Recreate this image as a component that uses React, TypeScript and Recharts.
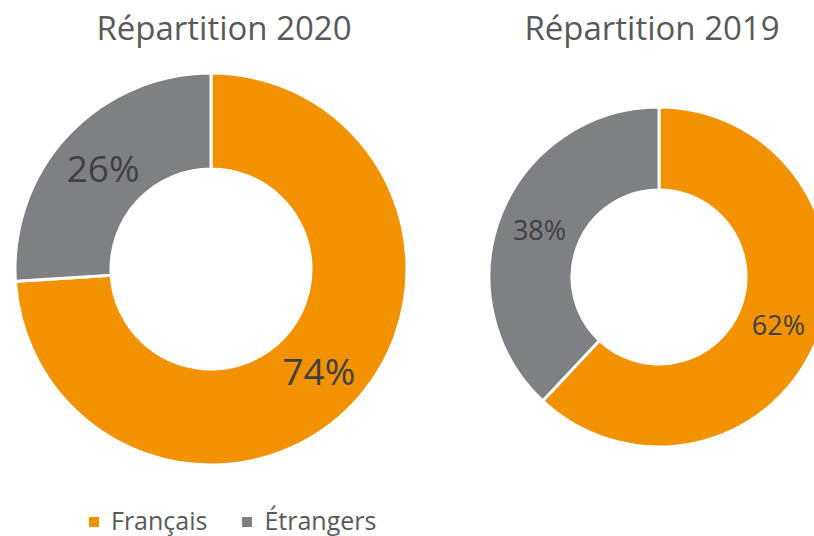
import { PieChart, Pie, Cell } from "recharts";

const categories = ["Français", "Étrangers"];
const values2020 = [74, 26];
const values2019 = [62, 38];
const titles = ["Répartition 2020", "Répartition 2019"];

const COLORS = ["#F39200", "#7F8083"];
const FONT = "'Open Sans', 'Noto Sans', sans-serif";
const RAD = Math.PI / 180;

const data2020 = categories.map((name, i) => ({ name, value: values2020[i] }));
const data2019 = categories.map((name, i) => ({ name, value: values2019[i] }));

function makeLabel(fontSize: number) {
  return (props: any) => {
    const { cx, cy, midAngle, innerRadius, outerRadius, value } = props;
    const r = (innerRadius + outerRadius) / 2;
    const x = cx + r * Math.cos(-midAngle * RAD);
    const y = cy + r * Math.sin(-midAngle * RAD);
    return (
      <text
        x={x}
        y={y}
        fill="#404040"
        fontSize={fontSize}
        fontFamily={FONT}
        textAnchor="middle"
        dominantBaseline="central"
      >
        {`${value}%`}
      </text>
    );
  };
}

const titleStyle: React.CSSProperties = {
  position: "absolute",
  width: 400,
  top: 6,
  textAlign: "center",
  fontFamily: FONT,
  fontSize: 33,
  color: "#595959",
  lineHeight: "44px",
  whiteSpace: "nowrap",
};

export default function App() {
  return (
    <div style={{ position: "absolute", left: 0, top: 0, width: 814, height: 536, background: "#fff", overflow: "hidden" }}>
      <div style={{ ...titleStyle, left: 24 }}>{titles[0]}</div>
      <div style={{ ...titleStyle, left: 452 }}>{titles[1]}</div>
      <div style={{ position: "absolute", left: 0, top: 0 }}>
        <PieChart width={814} height={536} margin={{ top: 0, right: 0, bottom: 0, left: 0 }}>
          <Pie
            data={data2020}
            dataKey="value"
            nameKey="name"
            cx={211}
            cy={269}
            innerRadius={100}
            outerRadius={196}
            startAngle={90}
            endAngle={-270}
            stroke="#fff"
            strokeWidth={3}
            label={makeLabel(37)}
            labelLine={false}
            isAnimationActive={false}
          >
            {data2020.map((d, i) => (
              <Cell key={d.name} fill={COLORS[i]} />
            ))}
          </Pie>
          <Pie
            data={data2019}
            dataKey="value"
            nameKey="name"
            cx={659}
            cy={277}
            innerRadius={87}
            outerRadius={170}
            startAngle={90}
            endAngle={-270}
            stroke="#fff"
            strokeWidth={3}
            label={makeLabel(27)}
            labelLine={false}
            isAnimationActive={false}
          >
            {data2019.map((d, i) => (
              <Cell key={d.name} fill={COLORS[i]} />
            ))}
          </Pie>
        </PieChart>
      </div>
      <div
        style={{
          position: "absolute",
          left: 89,
          top: 504,
          display: "flex",
          fontFamily: FONT,
          fontSize: 25,
          lineHeight: "32px",
          color: "#595959",
          zIndex: 2,
        }}
      >
        {categories.map((c, i) => (
          <div key={c} style={{ display: "flex", alignItems: "center", marginRight: 35 }}>
            <span
              style={{
                display: "inline-block",
                width: 10,
                height: 10,
                background: COLORS[i],
                marginRight: 12,
                marginTop: 4,
              }}
            />
            {c}
          </div>
        ))}
      </div>
    </div>
  );
}
